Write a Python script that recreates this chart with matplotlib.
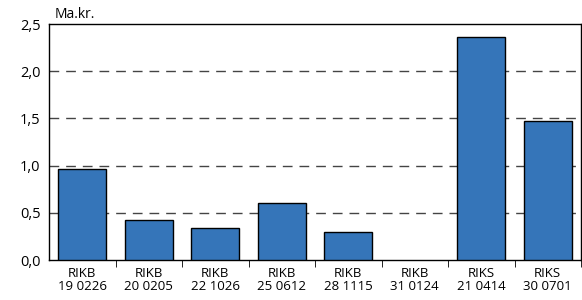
import matplotlib.pyplot as plt
from matplotlib.ticker import FixedLocator, NullFormatter

plt.rcParams['font.family'] = ['Open Sans', 'DejaVu Sans']

bonds = ['RIKB\n19 0226', 'RIKB\n20 0205', 'RIKB\n22 1026', 'RIKB\n25 0612',
         'RIKB\n28 1115', 'RIKB\n31 0124', 'RIKS\n21 0414', 'RIKS\n30 0701']
amounts = [0.96, 0.42, 0.34, 0.60, 0.30, 0.0, 2.36, 1.47]
yticks = [0.0, 0.5, 1.0, 1.5, 2.0, 2.5]

fig = plt.figure(figsize=(5.82, 3.0), dpi=100)
ax = fig.add_axes([49 / 582, 40 / 300, 532 / 582, 236 / 300])

x = list(range(len(bonds)))
bars = ax.bar(x, amounts, width=0.72, color='#3575b9', edgecolor='black', linewidth=1, zorder=3)
for b, v in zip(bars, amounts):
    if v == 0:
        b.set_visible(False)

ax.set_xlim(-0.5, len(bonds) - 0.5)
ax.set_ylim(0, 2.5)
ax.set_yticks(yticks)
ax.set_yticklabels([f'{t:.1f}'.replace('.', ',') for t in yticks], fontsize=10.5)
ax.tick_params(axis='y', length=0, pad=6)

ax.set_xticks(x)
ax.set_xticklabels(bonds, fontsize=9.5, linespacing=1.0)
ax.tick_params(axis='x', which='major', length=0, pad=5)
ax.xaxis.set_minor_locator(FixedLocator([i + 0.5 for i in range(len(bonds))]))
ax.xaxis.set_minor_formatter(NullFormatter())
ax.tick_params(axis='x', which='minor', length=5, direction='out', color='black')

for t in yticks[1:-1]:
    ax.axhline(t, color='#444444', linestyle=(0, (7, 5)), linewidth=1, zorder=1)

for s in ax.spines.values():
    s.set_color('black')
    s.set_linewidth(1)

ax.text(0.01, 1.01, 'Ma.kr.', transform=ax.transAxes, fontsize=10, ha='left', va='bottom')

fig.savefig('out.png', dpi=100)
